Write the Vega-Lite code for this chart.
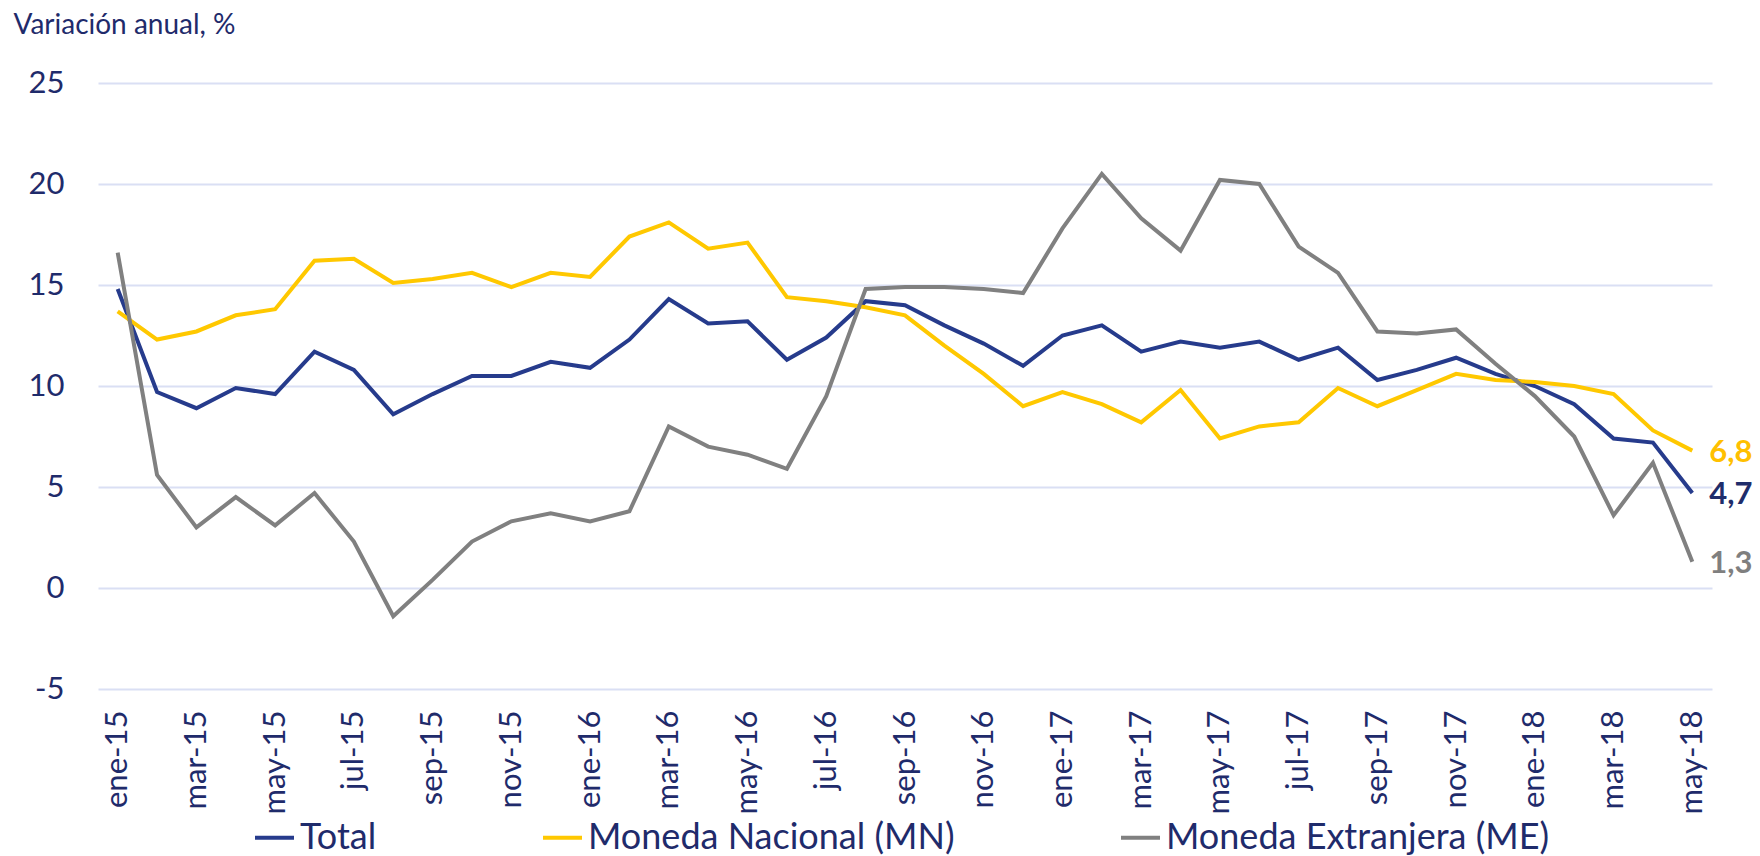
{
  "$schema": "https://vega.github.io/schema/vega-lite/v6.json",
  "width": 1614,
  "height": 606,
  "autosize": {"type": "none"},
  "padding": {"left": 98, "top": 83, "right": 48, "bottom": 167},
  "background": "white",
  "data": {
    "values": [
      {"mes": "ene-15", "Total": 14.8, "Moneda Nacional (MN)": 13.7, "Moneda Extranjera (ME)": 16.6},
      {"mes": "feb-15", "Total": 9.7, "Moneda Nacional (MN)": 12.3, "Moneda Extranjera (ME)": 5.6},
      {"mes": "mar-15", "Total": 8.9, "Moneda Nacional (MN)": 12.7, "Moneda Extranjera (ME)": 3.0},
      {"mes": "abr-15", "Total": 9.9, "Moneda Nacional (MN)": 13.5, "Moneda Extranjera (ME)": 4.5},
      {"mes": "may-15", "Total": 9.6, "Moneda Nacional (MN)": 13.8, "Moneda Extranjera (ME)": 3.1},
      {"mes": "jun-15", "Total": 11.7, "Moneda Nacional (MN)": 16.2, "Moneda Extranjera (ME)": 4.7},
      {"mes": "jul-15", "Total": 10.8, "Moneda Nacional (MN)": 16.3, "Moneda Extranjera (ME)": 2.3},
      {"mes": "ago-15", "Total": 8.6, "Moneda Nacional (MN)": 15.1, "Moneda Extranjera (ME)": -1.4},
      {"mes": "sep-15", "Total": 9.6, "Moneda Nacional (MN)": 15.3, "Moneda Extranjera (ME)": 0.4},
      {"mes": "oct-15", "Total": 10.5, "Moneda Nacional (MN)": 15.6, "Moneda Extranjera (ME)": 2.3},
      {"mes": "nov-15", "Total": 10.5, "Moneda Nacional (MN)": 14.9, "Moneda Extranjera (ME)": 3.3},
      {"mes": "dic-15", "Total": 11.2, "Moneda Nacional (MN)": 15.6, "Moneda Extranjera (ME)": 3.7},
      {"mes": "ene-16", "Total": 10.9, "Moneda Nacional (MN)": 15.4, "Moneda Extranjera (ME)": 3.3},
      {"mes": "feb-16", "Total": 12.3, "Moneda Nacional (MN)": 17.4, "Moneda Extranjera (ME)": 3.8},
      {"mes": "mar-16", "Total": 14.3, "Moneda Nacional (MN)": 18.1, "Moneda Extranjera (ME)": 8.0},
      {"mes": "abr-16", "Total": 13.1, "Moneda Nacional (MN)": 16.8, "Moneda Extranjera (ME)": 7.0},
      {"mes": "may-16", "Total": 13.2, "Moneda Nacional (MN)": 17.1, "Moneda Extranjera (ME)": 6.6},
      {"mes": "jun-16", "Total": 11.3, "Moneda Nacional (MN)": 14.4, "Moneda Extranjera (ME)": 5.9},
      {"mes": "jul-16", "Total": 12.4, "Moneda Nacional (MN)": 14.2, "Moneda Extranjera (ME)": 9.5},
      {"mes": "ago-16", "Total": 14.2, "Moneda Nacional (MN)": 13.9, "Moneda Extranjera (ME)": 14.8},
      {"mes": "sep-16", "Total": 14.0, "Moneda Nacional (MN)": 13.5, "Moneda Extranjera (ME)": 14.9},
      {"mes": "oct-16", "Total": 13.0, "Moneda Nacional (MN)": 12.0, "Moneda Extranjera (ME)": 14.9},
      {"mes": "nov-16", "Total": 12.1, "Moneda Nacional (MN)": 10.6, "Moneda Extranjera (ME)": 14.8},
      {"mes": "dic-16", "Total": 11.0, "Moneda Nacional (MN)": 9.0, "Moneda Extranjera (ME)": 14.6},
      {"mes": "ene-17", "Total": 12.5, "Moneda Nacional (MN)": 9.7, "Moneda Extranjera (ME)": 17.8},
      {"mes": "feb-17", "Total": 13.0, "Moneda Nacional (MN)": 9.1, "Moneda Extranjera (ME)": 20.5},
      {"mes": "mar-17", "Total": 11.7, "Moneda Nacional (MN)": 8.2, "Moneda Extranjera (ME)": 18.3},
      {"mes": "abr-17", "Total": 12.2, "Moneda Nacional (MN)": 9.8, "Moneda Extranjera (ME)": 16.7},
      {"mes": "may-17", "Total": 11.9, "Moneda Nacional (MN)": 7.4, "Moneda Extranjera (ME)": 20.2},
      {"mes": "jun-17", "Total": 12.2, "Moneda Nacional (MN)": 8.0, "Moneda Extranjera (ME)": 20.0},
      {"mes": "jul-17", "Total": 11.3, "Moneda Nacional (MN)": 8.2, "Moneda Extranjera (ME)": 16.9},
      {"mes": "ago-17", "Total": 11.9, "Moneda Nacional (MN)": 9.9, "Moneda Extranjera (ME)": 15.6},
      {"mes": "sep-17", "Total": 10.3, "Moneda Nacional (MN)": 9.0, "Moneda Extranjera (ME)": 12.7},
      {"mes": "oct-17", "Total": 10.8, "Moneda Nacional (MN)": 9.8, "Moneda Extranjera (ME)": 12.6},
      {"mes": "nov-17", "Total": 11.4, "Moneda Nacional (MN)": 10.6, "Moneda Extranjera (ME)": 12.8},
      {"mes": "dic-17", "Total": 10.6, "Moneda Nacional (MN)": 10.3, "Moneda Extranjera (ME)": 11.1},
      {"mes": "ene-18", "Total": 10.0, "Moneda Nacional (MN)": 10.2, "Moneda Extranjera (ME)": 9.5},
      {"mes": "feb-18", "Total": 9.1, "Moneda Nacional (MN)": 10.0, "Moneda Extranjera (ME)": 7.5},
      {"mes": "mar-18", "Total": 7.4, "Moneda Nacional (MN)": 9.6, "Moneda Extranjera (ME)": 3.6},
      {"mes": "abr-18", "Total": 7.2, "Moneda Nacional (MN)": 7.8, "Moneda Extranjera (ME)": 6.2},
      {"mes": "may-18", "Total": 4.7, "Moneda Nacional (MN)": 6.8, "Moneda Extranjera (ME)": 1.3}
    ]
  },
  "transform": [
    {"fold": ["Total", "Moneda Nacional (MN)", "Moneda Extranjera (ME)"], "as": ["serie", "valor"]}
  ],
  "encoding": {
    "x": {
      "field": "mes",
      "type": "ordinal",
      "sort": null,
      "scale": {"type": "point", "padding": 0.5},
      "axis": {
        "title": null,
        "values": ["ene-15", "mar-15", "may-15", "jul-15", "sep-15", "nov-15", "ene-16", "mar-16", "may-16", "jul-16", "sep-16", "nov-16", "ene-17", "mar-17", "may-17", "jul-17", "sep-17", "nov-17", "ene-18", "mar-18", "may-18"],
        "labelAngle": 270,
        "labelAlign": "right",
        "labelBaseline": "middle",
        "labelPadding": 21,
        "labelFont": "Lato",
        "labelFontSize": 31,
        "labelColor": "#1F2B6B",
        "ticks": false,
        "domain": false,
        "grid": false,
        "labelOverlap": false
      }
    },
    "y": {
      "field": "valor",
      "type": "quantitative",
      "scale": {"domain": [-5, 25], "nice": false, "zero": false},
      "axis": {
        "values": [-5, 0, 5, 10, 15, 20, 25],
        "format": "d",
        "domain": false,
        "ticks": false,
        "grid": true,
        "gridColor": "#DADFF4",
        "gridWidth": 2,
        "labelPadding": 34,
        "labelFont": "Lato",
        "labelFontSize": 31,
        "labelColor": "#1F2B6B",
        "title": "Variación anual, %",
        "titleAngle": 0,
        "titleAlign": "left",
        "titleBaseline": "alphabetic",
        "titleX": -85,
        "titleY": -50,
        "titleFont": "Lato",
        "titleFontSize": 28,
        "titleFontWeight": "normal",
        "titleColor": "#1F2B6B"
      }
    }
  },
  "layer": [
    {
      "mark": {"type": "line", "strokeWidth": 4},
      "encoding": {
        "color": {
          "field": "serie",
          "type": "nominal",
          "scale": {
            "domain": ["Total", "Moneda Nacional (MN)", "Moneda Extranjera (ME)"],
            "range": ["#263B8C", "#FFC800", "#808080"]
          },
          "legend": {
            "title": null,
            "orient": "none",
            "direction": "horizontal",
            "legendX": 155,
            "legendY": 733,
            "symbolType": "stroke",
            "symbolSize": 1521,
            "symbolStrokeWidth": 4,
            "labelOffset": 4,
            "columnPadding": 158,
            "labelFont": "Lato",
            "labelFontSize": 36,
            "labelColor": "#1F2B6B",
            "labelLimit": 1000
          }
        }
      }
    },
    {
      "transform": [{"filter": "datum.mes === 'may-18'"}],
      "mark": {"type": "text", "align": "left", "baseline": "middle", "dx": 17, "dy": 2, "font": "Lato", "fontWeight": "bold", "fontSize": 31},
      "encoding": {
        "text": {"field": "valor", "type": "quantitative", "format": ".1f"},
        "color": {
          "field": "serie",
          "type": "nominal",
          "scale": {
            "domain": ["Total", "Moneda Nacional (MN)", "Moneda Extranjera (ME)"],
            "range": ["#1F2D6B", "#FFC000", "#7F7F7F"]
          },
          "legend": null
        }
      }
    }
  ],
  "resolve": {"scale": {"color": "independent"}},
  "config": {
    "view": {"stroke": null},
    "locale": {
      "number": {"decimal": ",", "thousands": ".", "grouping": [3], "currency": ["", " €"], "minus": "-"}
    }
  }
}
